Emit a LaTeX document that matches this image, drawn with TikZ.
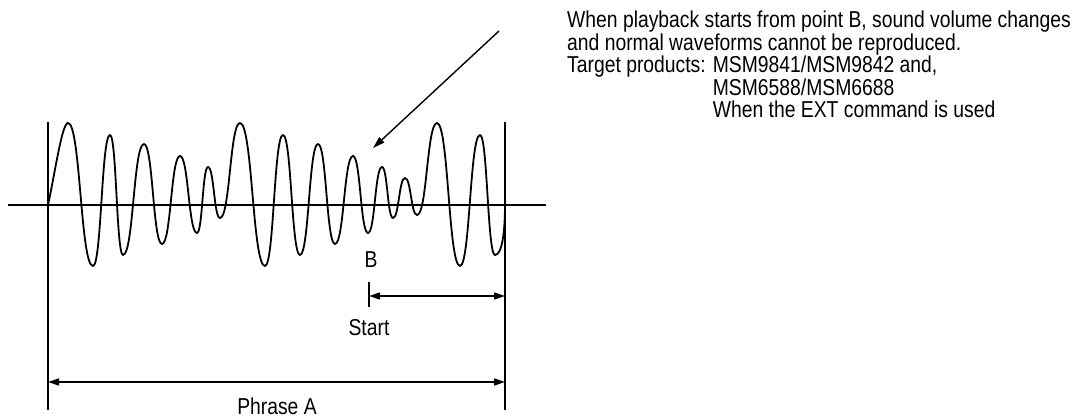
\documentclass[tikz,border=0pt]{standalone}
\usepackage{fontspec}
\setmainfont{Liberation Sans}[FakeStretch=0.84]
\usepackage{tikz}
\usetikzlibrary{arrows.meta}

\tikzset{
  wave/.style={line width=1.8pt, line cap=round, line join=round},
  rule/.style={line width=1.5pt},
  dim/.style={line width=1.5pt, {Triangle[length=11pt,width=7pt]}-{Triangle[length=11pt,width=7pt]}},
  ptr/.style={line width=1.4pt, -{Triangle[length=12pt,width=7pt]}},
  lbl/.style={font=\fontsize{23}{20}\selectfont, inner sep=0pt},
}

\begin{document}
\begin{tikzpicture}[x=1pt, y=-1pt]
  \useasboundingbox (0,0) rectangle (1080,420);
  % axis and phrase limits
  \draw[rule] (8,205) -- (546,205);
  \coordinate (lt) at (48,122);
  \coordinate (lb) at (48,410);
  \coordinate (rt) at (505,122);
  \coordinate (rb) at (505,410);
  \draw[rule] (lt) -- (lb);
  \draw[rule] (rt) -- (rb);
  % waveform
  \draw[wave] (48,205) .. controls (55,173) and (62,123) .. (68,123);
  \foreach \x/\y [remember=\x as \px (initially 68), remember=\y as \py (initially 123)] in
    {93/266, 110/135, 123/255, 144/144, 162/244, 180/156, 197/233, 208/167, 220/218,
     240/123, 265/266, 283/135, 300/255, 318/144, 335/244, 353/156, 368/233, 382/167,
     393/218, 405/178, 417/215, 437/123, 460/266, 480/135, 495/255}
    {\pgfmathsetmacro{\dx}{0.5*(\x-\px)}
     \draw[wave] (\px,\py) .. controls ({\px+\dx},\py) and ({\x-\dx},\y) .. (\x,\y);}
  \draw[wave] (495,255) .. controls (502,255) and (505,232) .. (505,205);
  % point B and start
  \node[lbl] (b) at (371,260) {B};
  \coordinate (bt) at (369,282);
  \coordinate (bb) at (369,307);
  \draw[rule] (bt) -- (bb);
  \coordinate (sl) at (369,296);
  \coordinate (sr) at (505,296);
  \draw[dim] (sl) -- (sr);
  \node[lbl] (start) at (369,328) {Start};
  % phrase A
  \coordinate (pl) at (48,382);
  \coordinate (pr) at (505,382);
  \draw[dim] (pl) -- (pr);
  \node[lbl] (phrase) at (277,406) {Phrase A};
  % note
  \node[lbl, anchor=north west, align=left] (note) at (567,11)
    {When playback starts from point B, sound volume changes\\
     and normal waveforms cannot be reproduced.\\
     Target products: MSM9841/MSM9842 and,\\
     \phantom{Target products: }MSM6588/MSM6688\\
     \phantom{Target products: }When the EXT command is used};
  \coordinate (tail) at (499,31);
  \coordinate (hit) at (373,148);
  \draw[ptr] (tail) -- (hit);
\end{tikzpicture}
\end{document}
